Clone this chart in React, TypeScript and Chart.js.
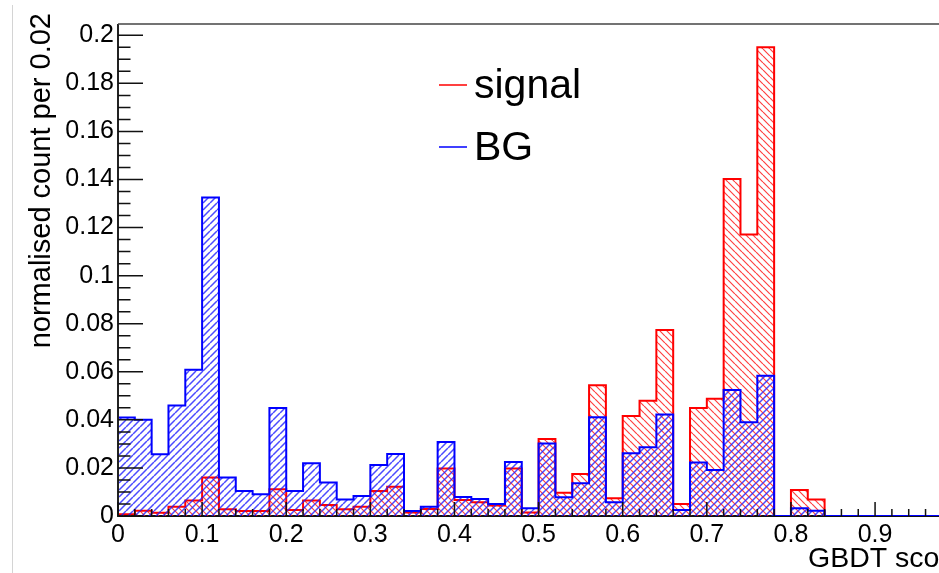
import React, { useEffect, useRef } from "react";
import { Chart, registerables } from "chart.js";

Chart.register(...registerables);

// ---- data ----
const binEdges = [
  0, 0.02, 0.04, 0.06, 0.08, 0.1, 0.12, 0.14, 0.16, 0.18,
  0.2, 0.22, 0.24, 0.26, 0.28, 0.3, 0.32, 0.34, 0.36, 0.38,
  0.4, 0.42, 0.44, 0.46, 0.48, 0.5, 0.52, 0.54, 0.56, 0.58,
  0.6, 0.62, 0.64, 0.66, 0.68, 0.7, 0.72, 0.74, 0.76, 0.78,
  0.8, 0.82, 0.84, 0.86, 0.88, 0.9, 0.92, 0.94, 0.96, 0.98,
];
const histEnd = 1.0;

const signalValues = [
  0.0007, 0.0022, 0.0014, 0.0039, 0.0065, 0.016, 0.0028, 0.0021, 0.0021, 0.0111,
  0.0025, 0.0065, 0.0046, 0.0028, 0.0039, 0.0104, 0.0122, 0.0015, 0.0029, 0.0198,
  0.0067, 0.0057, 0.0044, 0.0198, 0.0015, 0.032, 0.0097, 0.0175, 0.0544, 0.0074,
  0.0416, 0.048, 0.0774, 0.005, 0.0449, 0.0488, 0.1402, 0.1171, 0.195, 0,
  0.0108, 0.0069, 0, 0, 0, 0, 0, 0, 0, 0,
];

const bgValues = [
  0.041, 0.040, 0.0257, 0.046, 0.0608, 0.1325, 0.016, 0.0104, 0.009, 0.0449,
  0.0104, 0.0219, 0.0139, 0.0069, 0.0083, 0.0212, 0.0258, 0.0021, 0.0039, 0.0308,
  0.0079, 0.0071, 0.005, 0.0225, 0.0032, 0.0302, 0.0078, 0.0136, 0.0411, 0.0057,
  0.0261, 0.0286, 0.0422, 0.0025, 0.0223, 0.0191, 0.0524, 0.039, 0.0583, 0,
  0.0032, 0.0022, 0, 0, 0, 0, 0, 0, 0, 0,
];

const xTickValues = [0, 0.1, 0.2, 0.3, 0.4, 0.5, 0.6, 0.7, 0.8, 0.9];
const xTickLabels = ["0", "0.1", "0.2", "0.3", "0.4", "0.5", "0.6", "0.7", "0.8", "0.9"];
const yTickValues = [0, 0.02, 0.04, 0.06, 0.08, 0.1, 0.12, 0.14, 0.16, 0.18, 0.2];
const yTickLabels = ["0", "0.02", "0.04", "0.06", "0.08", "0.1", "0.12", "0.14", "0.16", "0.18", "0.2"];

const seriesNames = ["signal", "BG"];
const xTitle = "GBDT score";
const yTitle = "normalised count per 0.02";

const X_MIN = 0;
const X_MAX = 0.976;
const Y_MIN = 0;
const Y_MAX = 0.2047;

const FONT = "'Liberation Sans', Arial, Helvetica, sans-serif";

function histPoints(values: number[]) {
  const pts: { x: number; y: number }[] = [{ x: binEdges[0], y: 0 }];
  values.forEach((v, i) => pts.push({ x: binEdges[i], y: v }));
  pts.push({ x: histEnd, y: 0 });
  return pts;
}

function makeHatch(ctx: CanvasRenderingContext2D, color: string, dir: "/" | "\\", size: number, lw: number) {
  const c = document.createElement("canvas");
  c.width = size;
  c.height = size;
  const g = c.getContext("2d")!;
  g.strokeStyle = color;
  g.lineWidth = lw;
  g.beginPath();
  for (let k = -1; k <= 1; k++) {
    if (dir === "/") {
      g.moveTo(k * size, size);
      g.lineTo(k * size + size, 0);
    } else {
      g.moveTo(k * size, 0);
      g.lineTo(k * size + size, size);
    }
  }
  g.stroke();
  return ctx.createPattern(c, "repeat")!;
}

const rootFrame = {
  id: "rootFrame",
  beforeDatasetsDraw(chart: any) {
    const { ctx, chartArea } = chart;
    ctx.save();
    ctx.strokeStyle = "#111";
    ctx.lineWidth = 2;
    ctx.beginPath();
    ctx.moveTo(chartArea.left, chartArea.bottom);
    ctx.lineTo(chartArea.right, chartArea.bottom);
    ctx.stroke();
    ctx.restore();
  },
  afterDatasetsDraw(chart: any) {
    const { ctx, chartArea, scales } = chart;
    const xs = scales.x;
    const ys = scales.y;
    ctx.save();
    // frame
    ctx.strokeStyle = "#222";
    ctx.lineWidth = 2;
    ctx.beginPath();
    ctx.moveTo(chartArea.left, chartArea.bottom + 1);
    ctx.lineTo(chartArea.left, chartArea.top);
    ctx.stroke();
    ctx.strokeStyle = "#444";
    ctx.lineWidth = 1.5;
    ctx.beginPath();
    ctx.moveTo(chartArea.left, chartArea.top);
    ctx.lineTo(chartArea.right, chartArea.top);
    ctx.stroke();

    // y ticks (inside, from left)
    ctx.strokeStyle = "#111";
    ctx.lineWidth = 1.5;
    const yMajorLen = 25;
    ctx.beginPath();
    for (let i = 0; i < yTickValues.length; i++) {
      const v = yTickValues[i];
      const py = ys.getPixelForValue(v);
      ctx.moveTo(chartArea.left, py);
      ctx.lineTo(chartArea.left + yMajorLen, py);
      const next = i + 1 < yTickValues.length ? yTickValues[i + 1] : v + (v - yTickValues[i - 1]);
      for (let k = 1; k < 4; k++) {
        const mv = v + ((next - v) * k) / 4;
        if (mv > Y_MAX) break;
        const mpy = ys.getPixelForValue(mv);
        ctx.moveTo(chartArea.left, mpy);
        ctx.lineTo(chartArea.left + yMajorLen / 2, mpy);
      }
    }
    ctx.stroke();

    // x ticks (inside, from bottom)
    const xMajorLen = 14;
    ctx.beginPath();
    for (let i = 0; i < xTickValues.length; i++) {
      const v = xTickValues[i];
      const px = xs.getPixelForValue(v);
      ctx.moveTo(px, chartArea.bottom);
      ctx.lineTo(px, chartArea.bottom - xMajorLen);
      const next = i + 1 < xTickValues.length ? xTickValues[i + 1] : v + (v - xTickValues[i - 1]);
      for (let k = 1; k < 5; k++) {
        const mv = v + ((next - v) * k) / 5;
        if (mv > X_MAX) break;
        const mpx = xs.getPixelForValue(mv);
        ctx.moveTo(mpx, chartArea.bottom);
        ctx.lineTo(mpx, chartArea.bottom - xMajorLen / 2);
      }
    }
    ctx.stroke();
    ctx.restore();
  },
  afterDraw(chart: any) {
    const { ctx } = chart;
    ctx.save();
    // faint page border line
    ctx.strokeStyle = "#d4d4d4";
    ctx.lineWidth = 1;
    ctx.beginPath();
    ctx.moveTo(12.5, 5);
    ctx.lineTo(12.5, 573);
    ctx.stroke();

    ctx.fillStyle = "#000";
    // x title (runs past the right edge, as in the reference)
    ctx.font = `28.5px ${FONT}`;
    ctx.textAlign = "left";
    ctx.textBaseline = "alphabetic";
    ctx.fillText(xTitle, 808, 567);

    // y title rotated
    ctx.save();
    ctx.translate(50, 13);
    ctx.rotate(-Math.PI / 2);
    ctx.font = `29px ${FONT}`;
    ctx.textAlign = "right";
    ctx.textBaseline = "alphabetic";
    ctx.fillText(yTitle, 0, 0);
    ctx.restore();

    // legend
    const legendColors = ["#ff0000", "#0000ff"];
    const legendLineY = [85, 147];
    const legendTextY = [98, 160];
    ctx.font = `41px ${FONT}`;
    ctx.textAlign = "left";
    for (let i = 0; i < seriesNames.length; i++) {
      ctx.strokeStyle = legendColors[i];
      ctx.lineWidth = 1.5;
      ctx.beginPath();
      ctx.moveTo(439, legendLineY[i]);
      ctx.lineTo(467, legendLineY[i]);
      ctx.stroke();
      ctx.fillStyle = "#000";
      ctx.fillText(seriesNames[i], 474, legendTextY[i]);
    }
    ctx.restore();
  },
};

export default function App() {
  const canvasRef = useRef<HTMLCanvasElement | null>(null);

  useEffect(() => {
    const canvas = canvasRef.current!;
    const ctx = canvas.getContext("2d")!;
    const redHatch = makeHatch(ctx, "rgba(255,30,30,0.85)", "\\", 7, 1.2);
    const blueHatch = makeHatch(ctx, "rgba(30,30,255,0.8)", "/", 7, 1.5);

    const chart = new Chart(ctx, {
      type: "line",
      data: {
        datasets: [
          {
            label: seriesNames[1],
            data: histPoints(bgValues),
            stepped: "before",
            borderColor: "#0000ff",
            borderWidth: 2,
            backgroundColor: blueHatch,
            fill: "origin",
            pointRadius: 0,
            order: 1,
          },
          {
            label: seriesNames[0],
            data: histPoints(signalValues),
            stepped: "before",
            borderColor: "#ff0000",
            borderWidth: 2,
            backgroundColor: redHatch,
            fill: "origin",
            pointRadius: 0,
            order: 2,
          },
        ],
      },
      options: {
        animation: false,
        responsive: false,
        maintainAspectRatio: false,
        layout: { padding: { top: 24, left: 0, right: 0, bottom: 0 } },
        plugins: {
          legend: { display: false },
          tooltip: { enabled: false },
        },
        scales: {
          x: {
            type: "linear",
            min: X_MIN,
            max: X_MAX,
            grid: { display: false, drawTicks: false },
            border: { display: false },
            afterBuildTicks: (scale: any) => {
              scale.ticks = xTickValues.map((v) => ({ value: v }));
            },
            afterFit: (scale: any) => {
              scale.height = 57;
            },
            ticks: {
              autoSkip: false,
              maxRotation: 0,
              padding: 4,
              color: "#000",
              font: { family: FONT, size: 25 },
              callback: (value: any) => {
                const i = xTickValues.findIndex((t) => Math.abs(t - value) < 1e-9);
                return i >= 0 ? xTickLabels[i] : "";
              },
            },
          },
          y: {
            type: "linear",
            min: Y_MIN,
            max: Y_MAX,
            grid: { display: false, drawTicks: false },
            border: { display: false },
            afterBuildTicks: (scale: any) => {
              scale.ticks = yTickValues.map((v) => ({ value: v }));
            },
            afterFit: (scale: any) => {
              scale.width = 118;
            },
            ticks: {
              autoSkip: false,
              padding: 4,
              color: "#000",
              font: { family: FONT, size: 25 },
              callback: (value: any) => {
                const i = yTickValues.findIndex((t) => Math.abs(t - value) < 1e-9);
                return i >= 0 ? yTickLabels[i] : "";
              },
            },
          },
        },
      },
      plugins: [rootFrame],
    });
    return () => chart.destroy();
  }, []);

  return (
    <div style={{ position: "fixed", left: 0, top: 0, width: 939, height: 573, background: "#fff" }}>
      <canvas ref={canvasRef} width={939} height={573} style={{ display: "block" }} />
    </div>
  );
}
